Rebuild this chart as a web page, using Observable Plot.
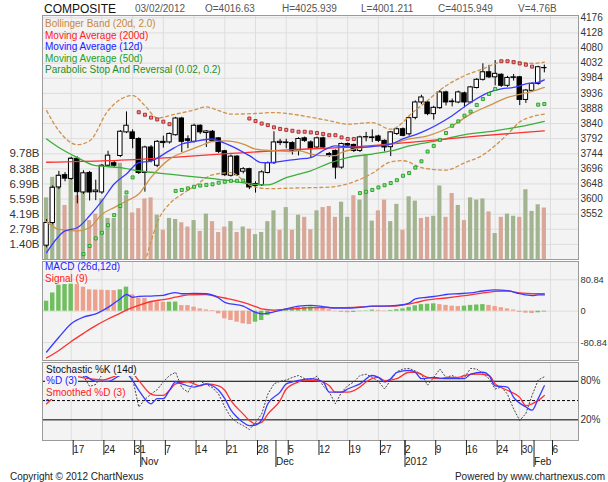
<!DOCTYPE html>
<html><head><meta charset="utf-8">
<script src="https://cdn.jsdelivr.net/npm/d3@7"></script>
<script src="https://cdn.jsdelivr.net/npm/@observablehq/plot@0.6"></script>
<style>
html,body{margin:0;padding:0;background:#fff;}
#wrap{position:relative;width:608px;height:482px;overflow:hidden;font-family:"Liberation Sans",Arial,Helvetica,sans-serif;}
#wrap svg{position:absolute;left:0;}
.t{position:absolute;white-space:nowrap;font-size:10px;line-height:10px;z-index:5;}
</style></head><body><div id="wrap"></div>
<script>
// ---------- DATA ----------
// trading-day index 0 = 11 Oct 2011 ... 81 = 3 Feb 2012
const open  = [3452,3524,3637,3676,3664,3728,3621,3683,3622,3621, 3706,3714,3737,3812,3812,3791,3683,3764,3706,3782,
  3780,3803,3856,3790,3782,3833,3810,3814,3793,3752, 3674,3735,3687,3695,3642,3644,3683,3714,3778,3778,
  3778,3754,3793,3780,3764,3793,3743,3753,3700,3775, 3772,3753,3796,3796,3799,3785,3765,3807,3822,3806,
  3858,3907,3907,3870,3889,3939,3908,3907,3936,3907, 3953,3979,4003,3987,3995,3960,3985,3987,3915,3944,
  3966,4016.63];
const high  = [3535,3642,3688,3684,3733,3734,3690,3688,3660,3710, 3752,3722,3818,3877,3820,3795,3768,3770,3786,3800,
  3810,3860,3860,3801,3838,3836,3818,3818,3795,3755, 3740,3738,3700,3698,3655,3690,3718,3814,3790,3790,
  3782,3795,3797,3785,3797,3797,3748,3756,3778,3778, 3775,3800,3812,3820,3803,3788,3815,3825,3826,3860,
  3912,3930,3912,3895,3945,3943,3918,3943,3940,3958, 3983,4030,4025,4040,3998,3990,3996,3990,3948,3970,
  4022,4025.939];
const low   = [3445,3518,3630,3655,3660,3585,3615,3594,3595,3615, 3700,3700,3732,3808,3760,3678,3622,3715,3700,3762,
  3775,3800,3748,3760,3778,3805,3764,3780,3745,3672, 3670,3672,3680,3630,3619,3640,3680,3710,3770,3760,
  3740,3737,3780,3729,3760,3760,3732,3663,3695,3765, 3748,3748,3782,3780,3780,3750,3735,3802,3798,3800,
  3852,3900,3865,3851,3885,3896,3893,3903,3890,3903, 3950,3975,3983,3960,3955,3955,3975,3897,3904,3940,
  3962,4001.211];
const close = [3524,3636,3674,3665,3728,3622,3682,3621,3627,3706, 3738,3706,3814,3833,3791,3683,3764,3722,3782,3778,
  3807,3856,3782,3785,3833,3812,3815,3785,3750,3676, 3735,3676,3695,3637,3648,3685,3714,3780,3782,3780,
  3754,3791,3785,3759,3793,3764,3738,3700,3775,3770, 3753,3796,3797,3794,3785,3764,3812,3822,3801,3857,
  3907,3923,3870,3890,3939,3907,3910,3939,3907,3955, 3979,4003,3987,3998,3960,3985,3987,3915,3945,3966,
  4019,4015.949];
const volume = [5.7,7.6,7.8,5.0,9.4,5.9,7.2,3.6,4.2,5.6, 3.8,3.8,8.9,5.9,4.3,4.7,5.6,5.7,4.1,2.7,
  3.8,3.7,3.4,3.0,3.6,2.6,4.2,3.5,2.5,3.0, 3.5,2.5,3.0,2.8,2.3,2.5,3.5,4.5,2.7,4.8,
  2.7,4.1,3.9,2.75,4.5,4.8,4.9,3.9,5.3,3.9, 5.9,5.5,9.7,3.55,4.5,5.5,3.5,5.1,2.7,5.8,
  5.4,3.8,3.9,4.0,6.8,3.9,6.1,5.0,3.6,5.7, 5.5,5.6,4.4,2.4,3.9,4.2,4.0,3.9,6.45,4.45,
  5.06,4.76];
const volUp = [1,1,1,0,1,0,1,0,0,1, 1,1,1,1,0,0,0,0,1,0, 1,1,0,0,1,0,1,0,0,0, 1,0,1,0,1,1,1,1,0,1,
  0,1,0,0,1,0,0,0,1,1, 0,1,1,1,0,0,1,1,0,1, 1,0,0,1,1,0,0,1,0,1, 1,1,0,1,0,1,1,0,1,1, 1,0];

const ma12Day = [0,3,5,7,9,11,13,15,17,20,22,24,27,28,30,33,35,36,39,41,43,45,47,50,54,56,58,61,66,69,72,74,76,77,78,80,81];
const ma12    = [3430,3499,3509,3547,3594,3648,3680,3716,3721,3754,3775,3783,3791,3785,3769,3738,3716,3716,3722,3727,3732,3754,3769,3764,3769,3775,3791,3812,3865,3907,3939,3950,3955,3960,3966,3971,3979];
const ma20Day = [0,2,5,7,9,11,13,15,17,20,23,25,27,29,32,34,37,40,41,43,45,47,48,50,54,56,59,62,66,69,72,75,79,81];
const ma20    = [3528,3504,3499,3509,3552,3573,3594,3616,3669,3727,3754,3769,3783,3785,3775,3759,3754,3751,3754,3743,3738,3738,3748,3759,3769,3775,3791,3801,3833,3870,3897,3923,3942,3955];
const ma50Day = [0,2,5,8,12,15,20,25,30,34,36,39,41,43,46,49,53,56,59,64,67,73,77,81];
const ma50    = [3791,3764,3732,3706,3700,3690,3679,3669,3658,3647,3645,3668,3679,3690,3714,3732,3743,3753,3769,3787,3801,3817,3830,3847];
const ma200Day = [0,10,20,30,40,50,60,70,81];
const ma200    = [3717,3722,3732,3745,3757,3766,3782,3800,3817];
const bbUpDay = [0,2,5,7,10,14,16,18,21,24,26,28,30,34,37,40,43,46,49,53,56,58,59,61,65,68,71,73,75,79,81];
const bbUp    = [3881,3817,3773,3785,3881,3929,3897,3858,3870,3883,3893,3881,3870,3872,3875,3870,3860,3849,3838,3843,3822,3844,3865,3897,3960,3992,4014,4030,4040,4031,4035];
const bbLoDay = [16,17,18,20,22,24,27,30,33,36,40,46,50,53,56,58,61,65,68,71,73,75,77,79,81];
const bbLo    = [3400,3465,3525,3585,3615,3640,3677,3684,3645,3633,3635,3638,3655,3682,3718,3722,3700,3692,3715,3740,3770,3806,3845,3862,3870];
const sarRedDay = [15,16,17,18,19,20, 33,34,35,36,37,38,39,40,41,42,43,44,45,46,47,48,49,50, 74,75,76,77,78,79];
const sarRed    = [3876,3868,3859,3853,3846,3838, 3856,3848,3840,3835,3828,3823,3820,3817,3814,3814,3812,3810,3807,3803,3803,3796,3791,3791, 4038,4038,4035,4031,4027,4021];
const sarGreenDay = [6,7,8,9,10,11,12,13,14, 21,22,23,24,25,26,27,28,29,30,31,32,
  51,52,53,54,55,56,57,58,59,60,61,62,63,64,65,66,67,68,69,70,71,72,73, 80,81];
const sarGreen    = [3425,3451,3475,3493,3517,3549,3578,3621,3669, 3626,3629,3634,3639,3643,3645,3647,3652,3655,3658,3658,3659,
  3619,3623,3629,3637,3644,3651,3660,3674,3683,3700,3720,3751,3769,3788,3810,3833,3847,3865,3878,3899,3918,3934,3950, 3900,3902];

const macdDay = [0,2,4,6,8,10,12,13,14,15,17,19,21,22,24,26,28,29,32,34,35,36,38,39,41,43,45,47,49,51,53,55,57,59,60,62,64,65,67,69,71,73,75,77,79,80,81];
const macd    = [-105,-67,-32,-15,-7,10,32,43,36,38,39,41,48,45,46,45,34,23,13,-3,-7,-5,2,6,13,15,12,8,8,10,13,13,15,21,32,36,40,43,45,47,52,55,53,45,40,42,42];
const sigDay  = [0,2,4,6,8,10,12,13,15,17,19,21,23,26,27,29,32,34,35,37,39,41,43,45,47,50,52,54,56,58,60,62,65,67,69,71,73,75,77,79,81];
const signal  = [-120,-101,-78,-57,-37,-20,-5,3,15,25,30,36,42,43,40,34,23,12,6,3,5,7,9,9,9,10,12,13,13,16,22,29,34,38,42,47,51,52,47,45,45];
const hist    = [25.7,47,67,68.7,69.5,68.5,62,55,54.5,54, 53.5,53,55,62,42,33.5,33,23.2,23,22.8,
  23.2,23.5,14.6,14.5,10.4,6,3.4,1.7,-6.8,-19.7, -24,-28.3,-32.5,-34.3,-28.3,-24,-11,1.7,3.5,5,
  7,9,10,11,10,7,4,-1,-3,-4, -3,-1,1,3,2,1,2,4,6,10, 14,17,18,19,17,15,13,12,13,15,
  16,17,15,12,9,6,3,-3,-5,-6, -4,-2];

const kFirstDay = 5;
const stochK = [92,88,72,75,90,96,90,98,
  97,84,40,52,60,67,79,89,94,70, 63,79,80,75,70,60,40,24,16,11,
  5,16,29,60,76,80,82,86,89,84, 82,88,73,63,45,63,73,79,89,91,
  86,80,68,82,95,99,100,96,91,74, 86,99,86,89,84,86,100,99,92,84,
  68,71,60,37,19,30,58,82,87];
const dDay = [0,1,2,3,4,6,8,10,12,13,14,15,17,18,19,20,21,22,24,26,27,28,29,30,31,32,33,34,35,36,38,39,40,42,43,45,46,48,49,51,53,54,55,56,57,59,60,61,63,65,66,68,69,71,72,73,75,76,78,79,80,81];
const dVal = [50,60,72,82,90,89,80,80,89,91,81,66,45,53,53,66,79,76,71,76,73,66,53,35,24,16,11,12,20,45,63,76,79,83,84,79,63,63,68,76,89,86,79,84,94,97,94,84,86,84,84,84,91,94,89,73,71,55,40,35,53,73];
const sDay = [0,1,2,3,4,7,9,12,14,15,17,18,19,20,21,23,25,26,28,29,30,32,33,34,35,36,38,39,41,42,44,46,47,49,51,52,54,55,57,59,60,62,64,65,67,68,70,72,73,75,77,78,79,80,81];
const sVal = [45,54,65,76,88,84,82,90,91,81,60,58,58,66,76,79,73,76,73,66,50,29,19,14,16,29,50,68,79,82,81,73,63,63,71,79,86,81,84,94,94,86,84,86,86,89,91,89,76,66,55,42,45,50,58];

const priceGrid  = [3456,3504,3552,3600,3648,3696,3744,3792,3840,3888,3936,3984,4032,4080,4128,4176];
const priceTicks = [3552,3600,3648,3696,3744,3792,3840,3888,3936,3984,4032,4080,4128,4176];
const volTicks   = [1.40,2.79,4.19,5.59,6.99,8.38,9.78];
const macdTicks  = [80.84,0,-80.84];
const stochTicks = [80,20];
const weekDays   = [4,9,14,19,24,29,34,39,44,49,54,58,63,68,73,77,82];
const weekLabels = ["17","24","31","7","14","21","28","5","12","19","27","2","9","16","24","30","6"];
const monthDays  = [15,37,58,79];
const monthLabels= ["Nov","Dec","2012","Feb"];

// ---------- DRAWING ----------
const FONT = '"Liberation Sans", Arial, Helvetica, sans-serif';
const PANEL = "#f3f3f3", GRID = "#dddddd", FRAME = "#9a9a9a";
const BLUE = "#3b3bff", RED = "#ff3030", GREEN = "#3aaf3a", BB = "#d0924a";
const VOLG = "#a2b38f", VOLR = "#d9a797", HG = "#6fbf5f", HR = "#eda18d";
const xDomain = [-0.667, 86.56];
const common = {width: 608, marginLeft: 42, marginRight: 30,
  style: {fontFamily: FONT, fontSize: "10px", background: "transparent", overflow: "visible", color: "#222"}};
const pts = (days, vals) => days.map((d, k) => ({d, v: vals[k]}));
const bars = open.map((o, i) => ({i, o, h: high[i], l: low[i], c: close[i], vol: volume[i], up: volUp[i] === 1}));
const volBase = priceGrid[0] - (priceGrid[1] - priceGrid[0]);      // price level of zero volume
const volUnit = (priceGrid[1] - priceGrid[0]) / 1.397;              // price units per billion shares
const vp = v => volBase + v * volUnit;
const lineOpt = (stroke, extra = {}) => ({x: "d", y: "v", stroke, strokeWidth: 1.3, curve: "monotone-x", clip: true, ...extra});
const rightLabel = (ticks, fmt, size) => Plot.text(ticks, {y: d => d, frameAnchor: "right", textAnchor: "start", dx: 2,
  text: fmt, fill: "#333", fontSize: size});

const main = Plot.plot({...common, height: 260, marginTop: 15, marginBottom: 1,
  x: {domain: xDomain, axis: null},
  y: {domain: [3408, 4183.4], axis: null},
  marks: [
    Plot.frame({fill: PANEL, stroke: "none"}),
    Plot.ruleY(priceGrid, {stroke: GRID}),
    Plot.ruleX(weekDays, {stroke: GRID}),
    Plot.rect(bars, {x1: d => d.i - 0.34, x2: d => d.i + 0.34, y1: () => vp(0), y2: d => vp(d.vol), fill: d => d.up ? VOLG : VOLR}),
    Plot.ruleX(bars, {x: "i", y1: "l", y2: "h", stroke: "#000"}),
    Plot.rect(bars, {x1: d => d.i - 0.36, x2: d => d.i + 0.36, y1: d => Math.min(d.o, d.c), y2: d => Math.max(d.o, d.c),
      fill: d => d.c >= d.o ? "#fff" : "#000", stroke: "#000", strokeWidth: 1}),
    Plot.line(pts(bbLoDay, bbLo), lineOpt(BB, {strokeDasharray: "3,3"})),
    Plot.line(pts(bbUpDay, bbUp), lineOpt(BB, {strokeDasharray: "3,3"})),
    Plot.line(pts(ma50Day, ma50), lineOpt(GREEN)),
    Plot.line(pts(ma200Day, ma200), lineOpt(RED)),
    Plot.line(pts(ma20Day, ma20), lineOpt(BB)),
    Plot.line(pts(ma12Day, ma12), lineOpt(BLUE)),
    Plot.dot(pts(sarRedDay, sarRed), {x: "d", y: "v", symbol: "square", r: 1.7, fill: "#e88f8f", stroke: "#a82222", strokeWidth: 0.9}),
    Plot.dot(pts(sarGreenDay, sarGreen), {x: "d", y: "v", symbol: "square", r: 1.7, fill: "#8fdc8f", stroke: "#1e9e1e", strokeWidth: 0.9}),
    Plot.frame({stroke: FRAME}),
    rightLabel(priceTicks, d => String(d), 10),
    Plot.text(volTicks, {y: d => vp(d), frameAnchor: "left", textAnchor: "end", dx: -3, text: d => d.toFixed(2) + "B", fill: "#333", fontSize: 11.5})
  ]
});

const histRows = hist.map((v, i) => ({i, v, up: i === 0 || v >= hist[i - 1]}));
const macdPlot = Plot.plot({...common, height: 101, marginTop: 1, marginBottom: 1,
  x: {domain: xDomain, axis: null},
  y: {domain: [-126.9, 128], axis: null},
  marks: [
    Plot.frame({fill: PANEL, stroke: "none"}),
    Plot.ruleY(macdTicks, {stroke: GRID}),
    Plot.ruleX(weekDays, {stroke: GRID}),
    Plot.rect(histRows, {x1: d => d.i - 0.36, x2: d => d.i + 0.36, y1: () => 0, y2: "v", fill: d => d.up ? HG : HR}),
    Plot.line(pts(sigDay, signal), lineOpt(RED)),
    Plot.line(pts(macdDay, macd), lineOpt(BLUE)),
    Plot.frame({stroke: FRAME}),
    rightLabel(macdTicks, d => String(d), 9.3)
  ]
});

const weekLabel = new Map(weekDays.map((d, k) => [d, weekLabels[k]]));
const monthLabel = new Map(monthDays.map((d, k) => [d, monthLabels[k]]));
const kPts = stochK.map((v, k) => ({d: kFirstDay + k, v}));
const stochPlot = Plot.plot({...common, height: 121, marginTop: 1, marginBottom: 42,
  x: {domain: xDomain},
  y: {domain: [-12.1, 109.2], axis: null},
  marks: [
    Plot.frame({fill: PANEL, stroke: "none"}),
    Plot.ruleX(weekDays, {stroke: GRID}),
    Plot.ruleY([50], {stroke: "#000", strokeDasharray: "3,2"}),
    Plot.ruleY(stochTicks, {stroke: "#000"}),
    Plot.line(kPts, {x: "d", y: "v", stroke: "#444", strokeWidth: 1, strokeDasharray: "1.2,2.2", clip: true}),
    Plot.line(pts(sDay, sVal), lineOpt(RED)),
    Plot.line(pts(dDay, dVal), lineOpt(BLUE)),
    Plot.frame({stroke: FRAME}),
    rightLabel(stochTicks, d => d + "%", 10),
    Plot.axisX(weekDays, {tickSize: 15, tickPadding: -10, tickFormat: d => weekLabel.get(d), textAnchor: "start", dx: 2, label: null}),
    Plot.axisX(monthDays, {tickSize: 27, tickPadding: -10, tickFormat: d => monthLabel.get(d), textAnchor: "start", dx: 2, label: null})
  ]
});

const wrap = document.getElementById("wrap");
[[main, 0], [macdPlot, 260], [stochPlot, 361]].forEach(([svg, top]) => { svg.style.top = top + "px"; wrap.appendChild(svg); });

function label(txt, x, cy, opt = {}) {
  const el = document.createElement("div");
  el.className = "t";
  el.textContent = txt;
  const size = opt.size || 10;
  el.style.fontSize = size + "px";
  el.style.lineHeight = size + "px";
  el.style.top = (cy - size / 2) + "px";
  if (opt.right) el.style.right = x + "px"; else el.style.left = x + "px";
  el.style.color = opt.color || "#222";
  if (opt.bg) { el.style.background = opt.bg; el.style.padding = "1px 1px"; el.style.marginTop = "-1px"; el.style.marginLeft = "-1px"; }
  wrap.appendChild(el);
}
// header
label("COMPOSITE", 44, 9, {size: 12, color: "#111"});
[["03/02/2012", 135], ["O=4016.63", 205], ["H=4025.939", 282], ["L=4001.211", 361], ["C=4015.949", 438], ["V=4.76B", 518]]
  .forEach(([t, x]) => label(t, x, 9, {color: "#555"}));
// main legend
[["Bollinger Band (20d, 2.0)", "#c8883a"], ["Moving Average (200d)", "#ff2020"], ["Moving Average (12d)", "#2020ff"],
 ["Moving Average (50d)", "#22a022"], ["Parabolic Stop And Reversal (0.02, 0.2)", "#1f8f1f"]]
  .forEach(([t, c], k) => label(t, 45, 24 + k * 11.6, {color: c}));
// MACD legend
label("MACD (26d,12d)", 45, 267, {color: "#2020ff"});
label("Signal (9)", 45, 279, {color: "#ff2020"});
// Stochastic legend
label("Stochastic %K (14d)", 46, 369.5, {color: "#111", bg: PANEL});
label("%D (3)", 46, 381, {color: "#2020ff", bg: PANEL});
label("Smoothed %D (3)", 46, 392.5, {color: "#ff2020", bg: PANEL});
// footer
label("Copyright \u00a9 2012 ChartNexus", 10, 476.5, {color: "#222"});
label("Powered by www.chartnexus.com", 3, 476.5, {color: "#222", right: true});
</script></body></html>
